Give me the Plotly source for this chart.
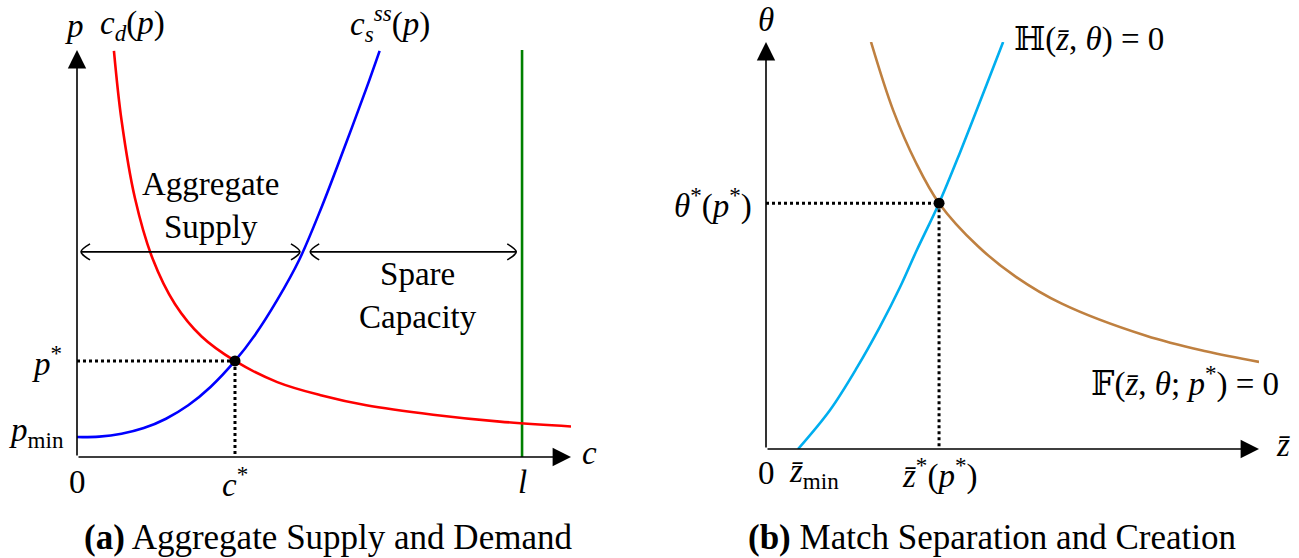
import plotly.graph_objects as go

# ---------------- Panel (a): aggregate supply and demand ----------------
c_demand = [0.83, 1.0, 1.3, 1.7, 2.2, 2.8, 3.55, 4.5, 5.5, 6.5, 8.0, 9.5, 11.1]
p_demand = [9.98, 8.28, 6.37, 4.87, 3.76, 2.96, 2.36, 1.84, 1.51, 1.27, 1.04, 0.87, 0.75]

c_supply = [0.0, 0.5, 1.0, 1.5, 2.0, 2.5, 3.0, 3.55, 4.0, 4.5, 5.0, 5.5, 6.0, 6.5, 6.8]
p_supply = [0.49, 0.50, 0.57, 0.71, 0.94, 1.27, 1.72, 2.36, 3.00, 3.86, 4.86, 6.15, 7.58, 9.05, 9.98]

labor_l = 10.0
labor_top = 10.0
c_star = 3.55
p_star = 2.36
p_min = 0.49
supply_span = [0.09, 5.01]
spare_span = [5.24, 9.87]
span_level = 5.04
a_xmax = 11.1
a_ymax = 10.0

# ---------------- Panel (b): match separation and creation ----------------
z_create = [0.65, 1.30, 1.85, 2.31, 2.72, 3.06, 3.51, 3.94, 4.48, 4.81]
theta_create = [0.0, 0.96, 2.01, 3.00, 3.98, 4.89, 6.04, 7.30, 8.97, 10.0]

z_separate = [2.13, 2.58, 3.04, 3.51, 4.30, 5.07, 6.00, 7.71, 8.92, 10.0]
theta_separate = [10.0, 8.32, 7.04, 6.04, 4.98, 4.23, 3.57, 2.78, 2.40, 2.14]

z_star = 3.51
theta_star = 6.04
b_xmax = 10.0
b_ymax = 10.0

W, H = 1299, 558
FONT = "Liberation Serif, DejaVu Serif, serif"
TXT = 33
CAP = 35

RED = "#ff0000"
BLUE = "#0000ff"
GREEN = "#008000"
CYAN = "#00aeef"
BROWN = "#bf8040"

fig = go.Figure()

def line(x, y, color, width, xa="x", ya="y", dash=None, shape="linear"):
    fig.add_trace(go.Scatter(x=x, y=y, mode="lines", xaxis=xa, yaxis=ya,
                             line=dict(color=color, width=width, dash=dash, shape=shape),
                             hoverinfo="skip", showlegend=False))

# panel (a) curves
line([labor_l, labor_l], [0, labor_top], GREEN, 2.6)
line(c_demand, p_demand, RED, 2.6, shape="spline")
line(c_supply, p_supply, BLUE, 2.6, shape="spline")
line([0, c_star], [p_star, p_star], "black", 3, dash="3px,3px")
line([c_star, c_star], [p_star, 0], "black", 3, dash="3px,3px")
fig.add_trace(go.Scatter(x=[c_star], y=[p_star], mode="markers", xaxis="x", yaxis="y",
                         marker=dict(color="black", size=11), hoverinfo="skip", showlegend=False))

# double arrows with open heads
dx_a = 9 / (494 / a_xmax)
dy_a = 8 / (407 / a_ymax)
for x0, x1 in (supply_span, spare_span):
    line([x0, x1], [span_level, span_level], "black", 1.6)
    line([x1 - dx_a, x1, x1 - dx_a], [span_level + dy_a, span_level, span_level - dy_a], "black", 1.6, shape="spline")
    line([x0 + dx_a, x0, x0 + dx_a], [span_level + dy_a, span_level, span_level - dy_a], "black", 1.6, shape="spline")

# panel (b) curves
line(z_separate, theta_separate, BROWN, 2.6, "x2", "y2", shape="spline")
line(z_create, theta_create, CYAN, 2.6, "x2", "y2", shape="spline")
line([0, z_star], [theta_star, theta_star], "black", 3, "x2", "y2", dash="3px,3px")
line([z_star, z_star], [theta_star, 0], "black", 3, "x2", "y2", dash="3px,3px")
fig.add_trace(go.Scatter(x=[z_star], y=[theta_star], mode="markers", xaxis="x2", yaxis="y2",
                         marker=dict(color="black", size=11), hoverinfo="skip", showlegend=False))

ann = []
def axis_arrow(x, y, ax, ay, xr, yr):
    ann.append(dict(x=x, y=y, ax=ax, ay=ay, xref=xr, yref=yr, axref=xr, ayref=yr,
                    text="", showarrow=True, arrowhead=2, arrowsize=2.3, arrowwidth=1.6,
                    arrowcolor="black", standoff=0, startstandoff=0))

axis_arrow(a_xmax, 0, 0, 0, "x", "y")
axis_arrow(0, a_ymax, 0, 0, "x", "y")
axis_arrow(b_xmax, 0, 0, 0, "x2", "y2")
axis_arrow(0, b_ymax, 0, 0, "x2", "y2")

PANELS = {"a": ("x", "y", a_xmax, a_ymax), "b": ("x2", "y2", b_xmax, b_ymax)}

def label(text, x, y, panel="a", xanchor="center", yanchor="middle", size=TXT):
    xa, ya, xm, ym = PANELS[panel]
    ann.append(dict(text=text, x=x / xm, y=y / ym, xref=xa + " domain", yref=ya + " domain",
                    showarrow=False, xanchor=xanchor, yanchor=yanchor,
                    font=dict(family=FONT, size=size, color="black")))

def caption(text, x, y, size=CAP):
    ann.append(dict(text=text, x=x, y=y, xref="paper", yref="paper", showarrow=False,
                    xanchor="center", yanchor="middle", font=dict(family=FONT, size=size, color="black")))

# labels panel (a)
label("<i>p</i>", -0.05, 10.6)
label("<i>c</i><sub><i>d</i></sub>(<i>p</i>)", 1.25, 10.6)
label("<i>c</i><sub><i>s</i></sub><sup><i>ss</i></sup>(<i>p</i>)", 7.03, 10.65)
label("<i>c</i>", 11.3, 0.1, xanchor="left")
label("<i>p</i><sup>*</sup>", -0.3, p_star, xanchor="right")
label("<i>p</i><sub>min</sub>", -0.25, p_min + 0.1, xanchor="right")
label("0", 0, -0.61)
label("<i>c</i><sup>*</sup>", c_star, -0.61)
label("<i>l</i>", labor_l, -0.61)
label("Aggregate<br>Supply", 3.01, 6.17)
label("Spare<br>Capacity", 7.66, 3.96)

# labels panel (b)
label("<i>θ</i>", 0, 10.54, "b")
label("<i>z̄</i>", 10.3, 0.1, "b", xanchor="left")
label("<i>θ</i><sup>*</sup>(<i>p</i><sup>*</sup>)", -0.25, theta_star, "b", xanchor="right")
label("0", 0, -0.59, "b")
label("<i>z̄</i><sub>min</sub>", 0.97, -0.59, "b")
label("<i>z̄</i><sup>*</sup>(<i>p</i><sup>*</sup>)", z_star, -0.59, "b")
label("ℍ(<i>z̄</i>, <i>θ</i>) = 0", 4.99, 10.05, "b", xanchor="left")
label("𝔽(<i>z̄</i>, <i>θ</i>; <i>p</i><sup>*</sup>) = 0", 6.55, 1.65, "b", xanchor="left")

# captions
caption("<b>(a)</b> Aggregate Supply and Demand", 328 / W, 1 - 537 / H)
caption("<b>(b)</b> Match Separation and Creation", 992 / W, 1 - 537 / H)

ax_common = dict(visible=False, showgrid=False, zeroline=False, fixedrange=True)
fig.update_layout(
    width=W, height=H, margin=dict(l=0, r=0, t=0, b=0),
    paper_bgcolor="white", plot_bgcolor="rgba(0,0,0,0)",
    xaxis=dict(domain=[77 / W, 571 / W], range=[0, a_xmax], **ax_common),
    yaxis=dict(domain=[1 - 457 / H, 1 - 50 / H], range=[0, a_ymax], **ax_common),
    xaxis2=dict(domain=[766 / W, 1259 / W], range=[0, b_xmax], anchor="y2", **ax_common),
    yaxis2=dict(domain=[1 - 449 / H, 1 - 42 / H], range=[0, b_ymax], anchor="x2", **ax_common),
    annotations=ann,
)

fig.write_html("out.html")
